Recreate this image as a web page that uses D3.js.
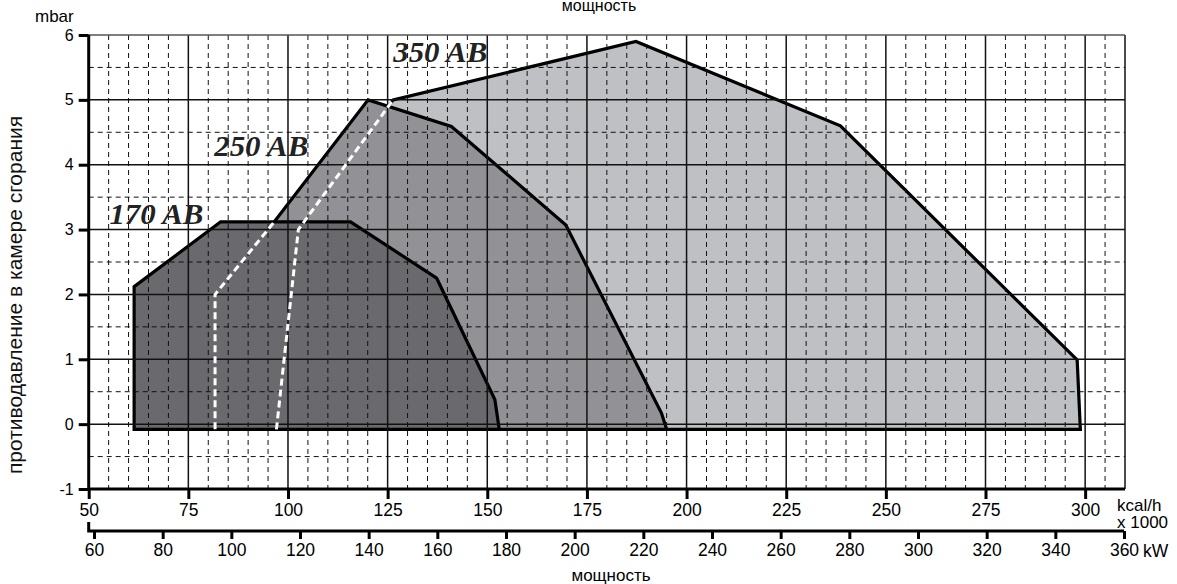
<!DOCTYPE html>
<html>
<head>
<meta charset="utf-8">
<script src="https://cdn.jsdelivr.net/npm/d3@7"></script>
<style>
  body { margin: 0; background: #fff; }
  svg { display: block; font-family: "Liberation Sans", Arial, sans-serif; }
</style>
</head>
<body>
<svg id="chart" width="1177" height="584"></svg>
<script>
// kcal/h x 1000 vs mbar
const kcalTicks = [50, 75, 100, 125, 150, 175, 200, 225, 250, 275, 300];
const kWTicks = [60, 80, 100, 120, 140, 160, 180, 200, 220, 240, 260, 280, 300, 320, 340, 360];
const mbarTicks = [-1, 0, 1, 2, 3, 4, 5, 6];

const area350 = [[97.1, -0.08], [102.6, 3.0], [126.4, 5.0], [187.3, 5.9], [238.6, 4.6], [298.0, 0.99], [298.8, -0.08]];
const area250 = [[86.3, -0.08], [86.3, 2.3], [120.1, 5.0], [141.0, 4.59], [169.7, 3.07], [193.7, 0.17], [195.0, -0.08]];
const area170 = [[61.4, -0.08], [61.4, 2.12], [83.1, 3.12], [115.7, 3.12], [137.3, 2.25], [151.9, 0.38], [153.0, -0.08]];
const limitA = [[81.7, -0.08], [81.7, 2.0], [96.3, 3.1]];
const limitB = [[97.1, -0.08], [102.6, 3.0], [126.4, 5.0]];

const areas = [
  { name: "350 AB", pts: area350, fill: "#bfc0c4", lx: 126.4, ly: 5.58 },
  { name: "250 AB", pts: area250, fill: "#929296", lx: 81.5, ly: 4.13 },
  { name: "170 AB", pts: area170, fill: "#6a6a6e", lx: 55.2, ly: 3.08 },
];

const svg = d3.select("#chart");
const x = d3.scaleLinear().domain([50, 310]).range([88.7, 1125]);
const xkW = d3.scaleLinear().domain([60, 360]).range([94, 1124]);
const y = d3.scaleLinear().domain([-1, 6]).range([489, 35]);

const line = d3.line().x(d => x(d[0])).y(d => y(d[1]));
const plain = d => String(d);

// areas, largest first
svg.append("g").selectAll("path").data(areas).join("path")
  .attr("d", d => line(d.pts) + "Z")
  .attr("fill", d => d.fill)
  .attr("stroke", "#000").attr("stroke-width", 3.2).attr("stroke-linejoin", "miter");

// grid
const grid = svg.append("g");
const minorX = d3.range(55, 310, 5).filter(v => v % 25 !== 0);
const minorY = d3.range(-0.5, 6, 1);
grid.selectAll(".vmin").data(minorX).join("line")
  .attr("x1", d => x(d)).attr("x2", d => x(d)).attr("y1", y(6)).attr("y2", y(-1))
  .attr("stroke", "#111").attr("stroke-width", 1).attr("stroke-dasharray", "5,4");
grid.selectAll(".hmin").data(minorY).join("line")
  .attr("class", "hmin")
  .attr("x1", x(50)).attr("x2", x(310)).attr("y1", d => y(d)).attr("y2", d => y(d))
  .attr("stroke", "#111").attr("stroke-width", 1).attr("stroke-dasharray", "5,4");
grid.selectAll(".vmaj").data(kcalTicks.slice(1).concat([310])).join("line")
  .attr("class", "vmaj")
  .attr("x1", d => x(d)).attr("x2", d => x(d)).attr("y1", y(6)).attr("y2", y(-1))
  .attr("stroke", "#111").attr("stroke-width", 1.5);
grid.selectAll(".hmaj").data(mbarTicks.slice(1)).join("line")
  .attr("class", "hmaj")
  .attr("x1", x(50)).attr("x2", x(310)).attr("y1", d => y(d)).attr("y2", d => y(d))
  .attr("stroke", d => d === 6 ? "#555" : "#111").attr("stroke-width", 1.5);

// working limit lines
svg.append("g").selectAll("path").data([limitA, limitB]).join("path")
  .attr("d", line).attr("fill", "none")
  .attr("stroke", "#fff").attr("stroke-width", 3).attr("stroke-dasharray", "7,4");

// labels of areas
svg.append("g").selectAll("text").data(areas).join("text")
  .attr("x", d => x(d.lx)).attr("y", d => y(d.ly))
  .attr("textLength", 94).attr("lengthAdjust", "spacingAndGlyphs")
  .style("font-family", "'Liberation Serif', 'Times New Roman', serif")
  .style("font-style", "italic").style("font-weight", "700")
  .style("font-size", "30px").style("fill", "#222")
  .text(d => d.name);

// y axis
const yAxis = svg.append("g").attr("transform", `translate(${x(50)},0)`)
  .call(d3.axisLeft(y).tickValues(mbarTicks).tickSize(10).tickPadding(5).tickFormat(plain));
yAxis.select(".domain").attr("stroke-width", 3).attr("d", `M0,${y(6)}V${y(-1)}`);
yAxis.selectAll(".tick line").attr("stroke-width", 3);
yAxis.selectAll("text").style("font-size", "16px").style("font-family", "'Liberation Sans', Arial, sans-serif");

// kcal axis
const xAxis = svg.append("g").attr("transform", `translate(0,${y(-1)})`)
  .call(d3.axisBottom(x).tickValues(kcalTicks).tickSize(10).tickPadding(5).tickFormat(plain));
xAxis.select(".domain").attr("stroke-width", 3).attr("d", `M${x(50)},0H${x(310)}`);
xAxis.selectAll(".tick line").attr("stroke-width", 3);
xAxis.selectAll("text").style("font-size", "17.5px").style("font-family", "'Liberation Sans', Arial, sans-serif");

// kW axis
const kwY = 531;
const kwAxis = svg.append("g").attr("transform", `translate(0,${kwY})`)
  .call(d3.axisBottom(xkW).tickValues(kWTicks).tickSize(8).tickPadding(5).tickFormat(plain));
kwAxis.select(".domain").attr("stroke-width", 3).attr("d", `M${x(50)},-9V0H${xkW(360)}`);
kwAxis.selectAll(".tick line").attr("stroke-width", 3);
kwAxis.selectAll("text").style("font-size", "17.5px").style("font-family", "'Liberation Sans', Arial, sans-serif");

// unit and title texts
const txt = (tx, ty, s, size, anchor) => svg.append("text")
  .attr("x", tx).attr("y", ty).attr("text-anchor", anchor || "start")
  .style("font-size", size).style("fill", "#000").text(s);
txt(35, 21.5, "mbar", "17px");
txt(1117, 511, "kcal/h", "17px");
txt(1117, 528, "x 1000", "17px");
txt(1143, 557, "kW", "17.5px");
txt(611, 581, "мощность", "17px", "middle");
txt(599, 11, "мощность", "16px", "middle");

svg.append("text")
  .attr("transform", "translate(22,295) rotate(-90)")
  .attr("text-anchor", "middle")
  .style("font-size", "21px").style("fill", "#111")
  .text("противодавление в камере сгорания");
</script>
</body>
</html>
